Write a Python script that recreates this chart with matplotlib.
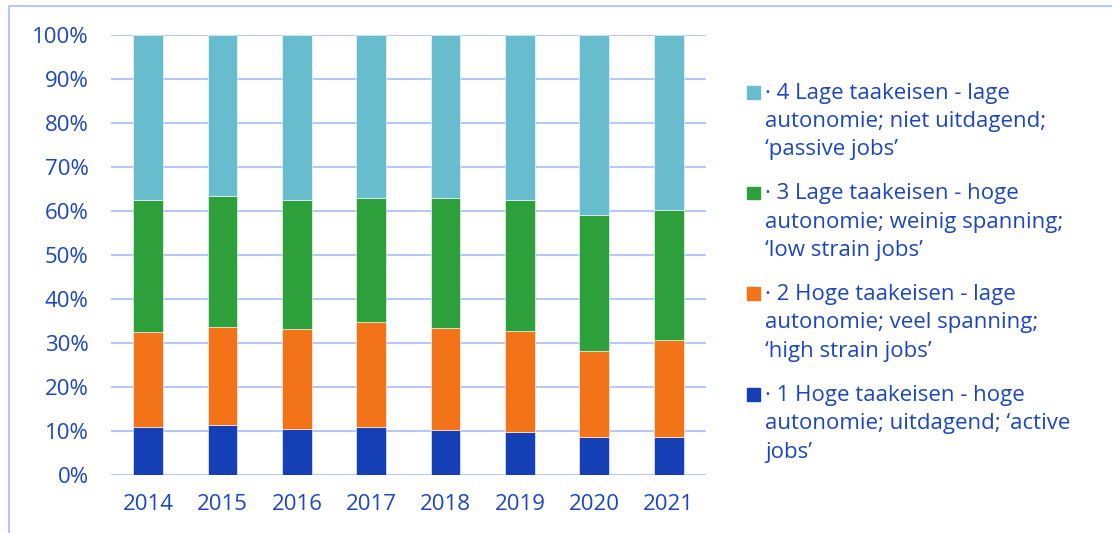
import numpy as np
import matplotlib
matplotlib.use("Agg")
import matplotlib.pyplot as plt
from matplotlib.patches import Rectangle
from matplotlib.ticker import FuncFormatter

years = ["2014", "2015", "2016", "2017", "2018", "2019", "2020", "2021"]

# share of workers per job type (percent), bottom to top
active_jobs = [11.0, 11.4, 10.4, 11.0, 10.3, 9.7, 8.7, 8.6]
high_strain_jobs = [21.5, 22.2, 22.8, 23.8, 23.0, 23.0, 19.4, 22.1]
low_strain_jobs = [29.9, 29.7, 29.2, 28.2, 29.7, 29.8, 31.1, 29.6]
passive_jobs = [37.6, 36.7, 37.6, 37.0, 37.0, 37.5, 40.8, 39.7]

labels = [
    ["· 1 Hoge taakeisen - hoge", "autonomie; uitdagend; \u2018active", "jobs\u2019"],
    ["· 2 Hoge taakeisen - lage", "autonomie; veel spanning;", "\u2018high strain jobs\u2019"],
    ["· 3 Lage taakeisen - hoge", "autonomie; weinig spanning;", "\u2018low strain jobs\u2019"],
    ["· 4 Lage taakeisen - lage", "autonomie; niet uitdagend;", "\u2018passive jobs\u2019"],
]
colors = ["#1540B5", "#F37319", "#2EA03B", "#67BCCD"]

text_color = "#1C46BE"
grid_color = "#B5C8F7"

plt.rcParams["font.family"] = ["Open Sans", "DejaVu Sans"]

W, H = 1112, 533
fig = plt.figure(figsize=(W / 100, H / 100), dpi=100)
ax = fig.add_axes([0.0998, 0.1088, 0.535, 0.8255])

# outer frame, cut off at the right and bottom edges
fig.patches.append(Rectangle((9 / W, -0.1), 1.2, 0.1 + (H - 6) / H,
                             transform=fig.transFigure, fill=False,
                             edgecolor=grid_color, linewidth=1.5))

x = np.arange(len(years))
series = [active_jobs, high_strain_jobs, low_strain_jobs, passive_jobs]
bottom = np.zeros(len(years))
for vals, col in zip(series, colors):
    ax.bar(x, vals, width=0.4, bottom=bottom, color=col,
           edgecolor="white", linewidth=0.4, zorder=3)
    bottom += np.array(vals)

ax.set_xlim(-0.5, len(years) - 0.5)
ax.set_ylim(0, 100)
ax.set_yticks(np.arange(0, 101, 10))
ax.yaxis.set_major_formatter(FuncFormatter(lambda v, p: f"{v:.0f}%"))
ax.set_xticks(x)
ax.set_xticklabels(years)
ax.tick_params(length=0, labelsize=16, colors=text_color)
ax.tick_params(axis="x", pad=14)
ax.tick_params(axis="y", pad=16)
ax.grid(axis="y", color=grid_color, linewidth=1.5, zorder=0)
for s in ax.spines.values():
    s.set_visible(False)

# legend: square beside the first line of each entry, top entry first
for i, (lines, col) in enumerate(zip(labels[::-1], colors[::-1])):
    base = 98.5 + i * 100.7
    fig.patches.append(Rectangle((747 / W, 1 - base / H), 13 / W, 12.5 / H,
                                 transform=fig.transFigure, color=col))
    for j, line in enumerate(lines):
        fig.text(765 / W, 1 - (base + j * 28.5) / H, line, fontsize=16,
                 color=text_color, va="baseline", ha="left")

fig.savefig("out.png", dpi=100)
